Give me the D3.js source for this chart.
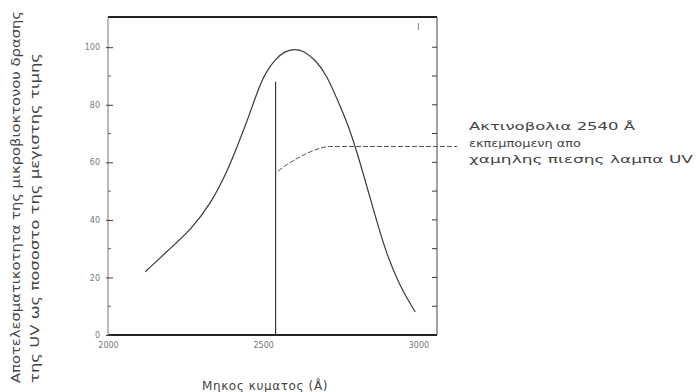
<!DOCTYPE html>
<html>
<head>
<meta charset="utf-8">
<script src="https://cdn.jsdelivr.net/npm/d3@7"></script>
<style>
  body { margin: 0; background: #fff; }
  svg { display: block; }
</style>
</head>
<body>
<div id="chart"></div>
<script>
// καμπύλη μικροβιοκτόνου δράσης (τιμές διαβασμένες από την εικόνα)
const wavelength = [2120, 2200, 2270, 2330, 2385, 2420, 2445, 2465, 2490, 2510, 2540, 2570, 2600, 2630, 2670, 2706, 2740, 2770, 2800, 2845, 2892, 2941, 2990];
const efficiency = [22, 30, 37, 45.5, 57, 66.5, 73.5, 79.5, 87, 91.5, 96, 98.6, 99.4, 98.8, 95.5, 90, 81.5, 74, 64.5, 47.5, 29.5, 16.7, 8];

// γραμμή της λάμπας 2540 Å
const lampWavelength = 2540;
const lampTop = 88;

// γραμμή παραπομπής προς το κείμενο
const leaderX = [2548, 2585, 2635, 2680, 2715, 3125];
const leaderY = [57, 59.8, 62.8, 64.8, 65.5, 65.5];

const xTicks = [2000, 2500, 3000];
const xTickLabels = ['2000', '2500', '3000'];
const yMajor = [0, 20, 40, 60, 80, 100];
const yMajorLabels = ['0', '20', '40', '60', '80', '100'];
const yMinor = [10, 30, 50, 70, 90];
const yRight = [10, 20, 30, 40, 50, 60, 70, 80, 90, 100];

const noteLines = ['Ακτινοβολια 2540 Å', 'εκπεμπομενη απο', 'χαμηλης πιεσης λαμπα UV'];
const yTitle = ['Αποτελεσματικοτητα της μικροβιοκτονου δρασης', 'της UV ως ποσοστο της μεγιστης τιμης'];
const xTitle = 'Μηκος κυματος (Å)';

const width = 697, height = 392;
const plotLeft = 108, plotRight = 437, plotTop = 17, plotBottom = 335;
const noteWidths = [166, 112, 224];   // πλάτος κάθε γραμμής της σημείωσης
const yTitleWidths = [372, 330];

const svg = d3.select('#chart').append('svg')
    .attr('width', width)
    .attr('height', height);

const x = d3.scaleLinear().domain([2000, 3060]).range([plotLeft, plotRight]);
const y = d3.scaleLinear().domain([0, 110.5]).range([plotBottom, plotTop]);

const ink = '#3a3a3a';

// πλαίσιο
svg.append('line').attr('x1', plotLeft).attr('x2', plotRight).attr('y1', plotTop).attr('y2', plotTop)
    .attr('stroke', '#222').attr('stroke-width', 2);
svg.append('line').attr('x1', plotLeft).attr('x2', plotRight).attr('y1', plotBottom).attr('y2', plotBottom)
    .attr('stroke', '#222').attr('stroke-width', 2);
svg.append('line').attr('x1', plotLeft).attr('x2', plotLeft).attr('y1', plotTop).attr('y2', plotBottom)
    .attr('stroke', '#777').attr('stroke-width', 1);
svg.append('line').attr('x1', plotRight).attr('x2', plotRight).attr('y1', plotTop).attr('y2', plotBottom)
    .attr('stroke', '#444').attr('stroke-width', 1);

// αριστερός άξονας
const yAxis = d3.axisLeft(y)
    .tickValues(yMajor)
    .tickSize(-5)
    .tickPadding(8)
    .tickFormat((d, i) => yMajorLabels[i]);
const gy = svg.append('g').attr('transform', `translate(${plotLeft},0)`).call(yAxis);
gy.select('.domain').remove();
gy.selectAll('.tick line').attr('stroke', ink).attr('x1', -2);
gy.selectAll('.tick text')
    .style('font-family', 'DejaVu Sans')
    .style('font-size', '8px')
    .attr('fill', '#777');

svg.append('g').selectAll('line')
    .data(yMinor)
    .enter()
    .append('line')
    .attr('x1', plotLeft).attr('x2', plotLeft + 3)
    .attr('y1', d => y(d)).attr('y2', d => y(d))
    .attr('stroke', '#666');

// δεξιός άξονας
svg.append('g').selectAll('line')
    .data(yRight)
    .enter()
    .append('line')
    .attr('x1', plotRight - 5).attr('x2', plotRight)
    .attr('y1', d => y(d)).attr('y2', d => y(d))
    .attr('stroke', ink);

// κάτω άξονας
const xAxis = d3.axisBottom(x)
    .tickValues(xTicks)
    .tickSize(0)
    .tickPadding(7)
    .tickFormat((d, i) => xTickLabels[i]);
const gx = svg.append('g').attr('transform', `translate(0,${plotBottom})`).call(xAxis);
gx.select('.domain').remove();
gx.selectAll('.tick text')
    .style('font-family', 'DejaVu Sans')
    .style('font-size', '8px')
    .attr('fill', '#777');

// μικρή υποδιαίρεση πάνω στο 3000
svg.append('line')
    .attr('x1', x(3000)).attr('x2', x(3000))
    .attr('y1', plotTop + 6).attr('y2', plotTop + 13)
    .attr('stroke', '#888');

// καμπύλη
const pts = wavelength.map((w, i) => [w, efficiency[i]]);
const line = d3.line()
    .x(d => x(d[0]))
    .y(d => y(d[1]))
    .curve(d3.curveBasis);
svg.append('path')
    .attr('d', line(pts))
    .attr('fill', 'none')
    .attr('stroke', ink)
    .attr('stroke-width', 1.2);

// γραμμή λάμπας
svg.append('line')
    .attr('x1', x(lampWavelength)).attr('x2', x(lampWavelength))
    .attr('y1', y(0)).attr('y2', y(lampTop))
    .attr('stroke', ink)
    .attr('stroke-width', 1.2);

// παραπομπή
const leaderPts = leaderX.map((w, i) => [w, leaderY[i]]);
svg.append('path')
    .attr('d', d3.line().x(d => x(d[0])).y(d => y(d[1])).curve(d3.curveMonotoneX)(leaderPts))
    .attr('fill', 'none')
    .attr('stroke', '#555')
    .attr('stroke-width', 1)
    .attr('stroke-dasharray', '5,2');

// κείμενο σημείωσης
svg.append('g').selectAll('text')
    .data(noteLines)
    .enter()
    .append('text')
    .attr('x', 469)
    .attr('y', (d, i) => 130 + i * 16.5)
    .attr('textLength', (d, i) => noteWidths[i])
    .attr('lengthAdjust', 'spacingAndGlyphs')
    .style('font-family', 'DejaVu Sans')
    .style('font-size', '11px')
    .attr('fill', '#444')
    .text(d => d);

// τίτλος άξονα y
svg.append('g')
    .attr('transform', 'translate(0,383) rotate(-90)')
    .selectAll('text')
    .data(yTitle)
    .enter()
    .append('text')
    .attr('x', 0)
    .attr('y', (d, i) => 20 + i * 19)
    .attr('textLength', (d, i) => yTitleWidths[i])
    .attr('lengthAdjust', 'spacingAndGlyphs')
    .style('font-family', 'DejaVu Sans')
    .style('font-size', '11.5px')
    .attr('fill', '#444')
    .text(d => d);

// τίτλος άξονα x
svg.append('text')
    .attr('x', 265)
    .attr('y', 390)
    .attr('text-anchor', 'middle')
    .style('font-family', 'DejaVu Sans')
    .style('font-size', '12px')
    .style('letter-spacing', '0.6px')
    .attr('fill', '#444')
    .text(xTitle);
</script>
</body>
</html>
